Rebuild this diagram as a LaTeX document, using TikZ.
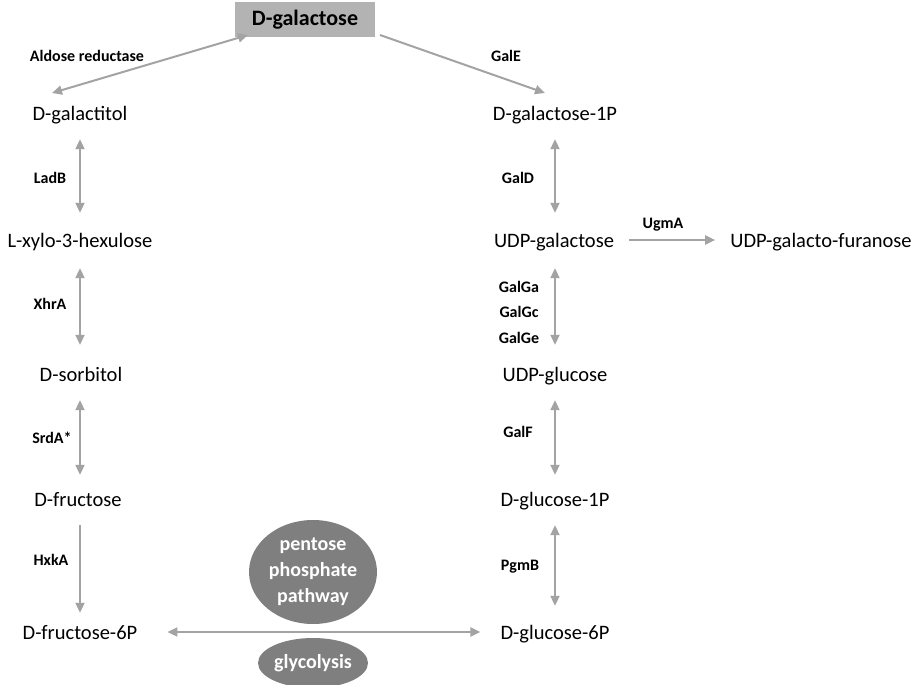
\documentclass[tikz,border=0pt]{standalone}
\usepackage{fontspec}
\setmainfont{Carlito}
\usetikzlibrary{arrows.meta,shapes.geometric,calc}
\definecolor{arrowgray}{HTML}{A3A3A3}
\definecolor{boxgray}{HTML}{B3B3B3}
\definecolor{ellgray}{HTML}{7F7F7F}
\begin{document}
\begin{tikzpicture}[x=1pt,y=-1pt,
  met/.style={inner sep=0pt,anchor=base,text height=14pt,text depth=4.5pt,font=\fontsize{20.5}{24}\selectfont},
  enz/.style={inner sep=0pt,font=\bfseries\fontsize{16}{18}\selectfont},
  conn/.style={draw=arrowgray,line width=2pt,-{Triangle[length=10pt,width=9pt]}},
  bconn/.style={draw=arrowgray,line width=2pt,{Triangle[length=10pt,width=9pt]}-{Triangle[length=10pt,width=9pt]}},
  pathw/.style={ellipse,fill=ellgray,text=white,inner sep=0pt,align=center,font=\bfseries\fontsize{20}{26}\selectfont}]
\useasboundingbox (0,0) rectangle (914,685);
\coordinate (colL) at (80,0);
\coordinate (colR) at (555,0);
% top
\node[fill=boxgray,minimum width=140pt,minimum height=35pt,inner sep=0pt,font=\bfseries\fontsize{22}{24}\selectfont] (galactose) at (305,20) {D-galactose};
% left column
\node[met] (galactitol) at (80,121) {D-galactitol};
\node[met] (xylo) at (80,247) {L-xylo-3-hexulose};
\node[met] (sorbitol) at (81,381) {D-sorbitol};
\node[met] (fructose) at (78,506) {D-fructose};
\node[met] (f6p) at (80,639) {D-fructose-6P};
% right column
\node[met] (gal1p) at (555,121) {D-galactose-1P};
\node[met] (udpgal) at (554,247) {UDP-galactose};
\node[met] (udpglc) at (555,381) {UDP-glucose};
\node[met] (g1p) at (555,506) {D-glucose-1P};
\node[met] (g6p) at (555,639) {D-glucose-6P};
\node[met] (udpgf) at (821,247) {UDP-galacto-furanose};
% pathways
\node[pathw,minimum width=128pt,minimum height=104pt] (ppp) at (313,572) {pentose\\phosphate\\pathway};
\node[pathw,minimum width=110pt,minimum height=50pt] (glyc) at (313,663) {glycolysis};
% enzyme labels
\node[enz] (ar) at (87,56) {Aldose reductase};
\node[enz] (gale) at (506,56) {GalE};
\node[enz] (ladb) at (50,178) {LadB};
\node[enz] (xhra) at (50,304) {XhrA};
\node[enz] (srda) at (52,438) {SrdA*};
\node[enz] (hxka) at (51,560) {HxkA};
\node[enz] (gald) at (518,178) {GalD};
\node[enz] (galga) at (519,287) {GalGa};
\node[enz] (galgc) at (519,312) {GalGc};
\node[enz] (galge) at (519,338) {GalGe};
\node[enz] (galf) at (518,432) {GalF};
\node[enz] (pgmb) at (520,567) {PgmB};
\node[enz] (ugma) at (663,225) {UgmA};
% top arrows
\coordinate (galL) at (248,35);
\coordinate (galR) at (380,35);
\coordinate (galtolTop) at (52,93);
\coordinate (gal1pTop) at (545,93);
\draw[bconn] (galL) -- (galtolTop);
\draw[conn] (galR) -- (gal1pTop);
% left verticals
\draw[bconn,shorten <=13.5pt,shorten >=20pt] (galactitol.south -| colL) -- (xylo.north -| colL);
\draw[bconn,shorten <=16.5pt,shorten >=22pt] (xylo.south -| colL) -- (sorbitol.north -| colL);
\draw[bconn,shorten <=14.5pt,shorten >=17pt] (sorbitol.south -| colL) -- (fructose.north -| colL);
\draw[conn,shorten <=14.5pt,shorten >=12pt] (fructose.south -| colL) -- (f6p.north -| colL);
% right verticals
\draw[bconn,shorten <=13.5pt,shorten >=20pt] (gal1p.south -| colR) -- (udpgal.north -| colR);
\draw[bconn,shorten <=16.5pt,shorten >=22pt] (udpgal.south -| colR) -- (udpglc.north -| colR);
\draw[bconn,shorten <=14.5pt,shorten >=17pt] (udpglc.south -| colR) -- (g1p.north -| colR);
\draw[bconn,shorten <=14.5pt,shorten >=19pt] (g1p.south -| colR) -- (g6p.north -| colR);
% horizontals
\draw[conn,shorten <=15pt,shorten >=15pt] ([yshift=7pt]udpgal.base east) -- ([yshift=7pt]udpgf.base west);
\draw[bconn,shorten <=30pt,shorten >=20pt] ([yshift=7pt]f6p.base east) -- ([yshift=7pt]g6p.base west);
\end{tikzpicture}
\end{document}
